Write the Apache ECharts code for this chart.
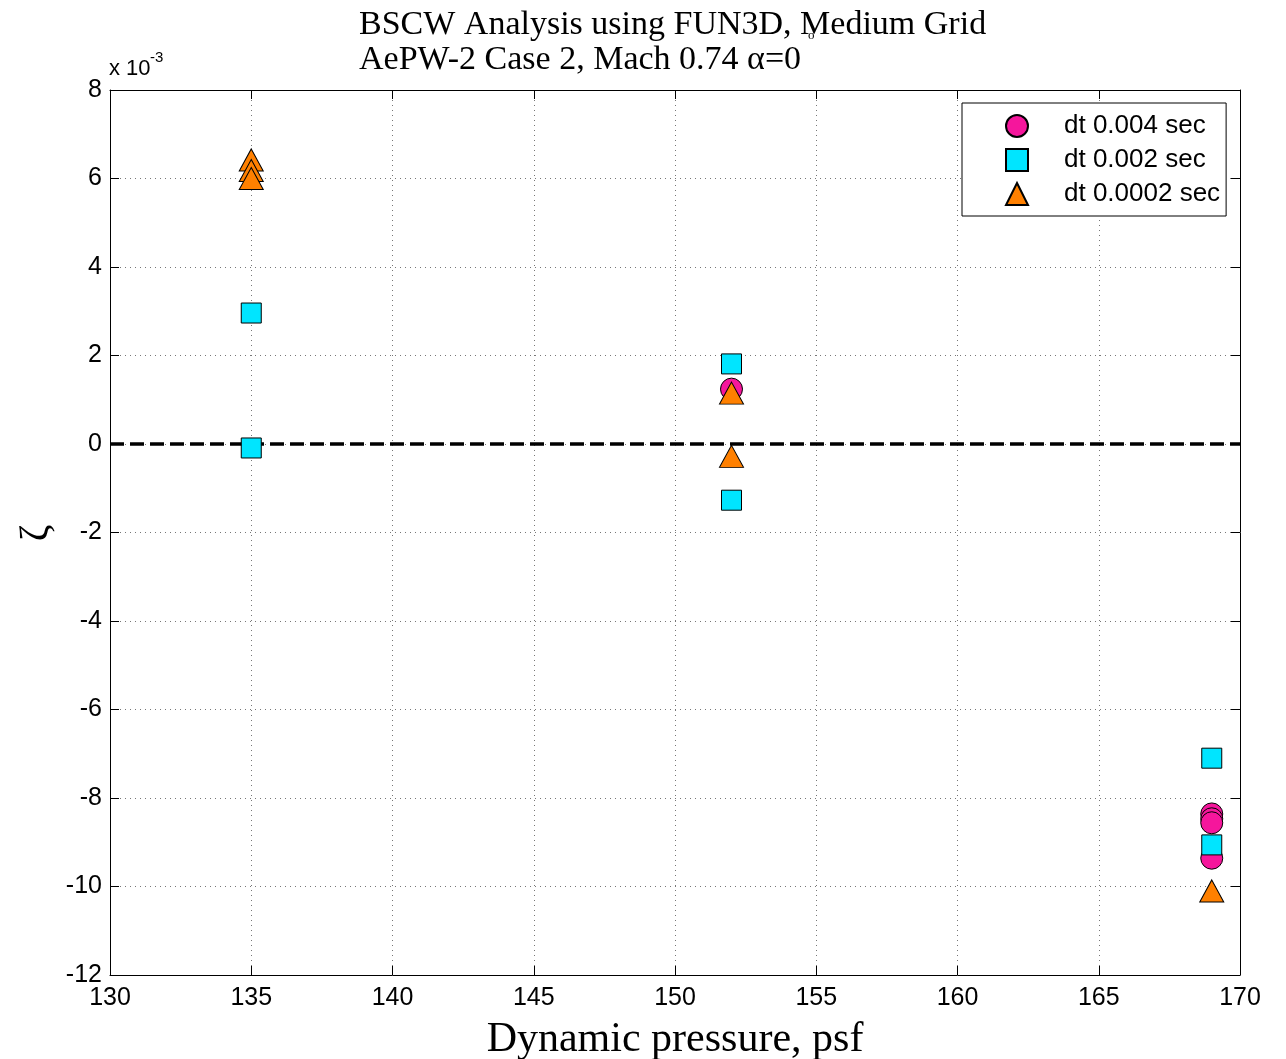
<!DOCTYPE html>
<html><head><meta charset="utf-8">
<script src="https://cdn.jsdelivr.net/npm/echarts@6/dist/echarts.min.js"></script>
<style>html,body{margin:0;padding:0;background:#fff}#c{width:1286px;height:1059px}</style>
</head><body><div id="c"></div>
<script>
// values of zeta in units of 1e-3
const circles = [[152, 1.24], [169, -8.36], [169, -8.47], [169, -8.56], [169, -9.36]];
const squares = [[135, 2.96], [135, -0.09], [152, 1.81], [152, -1.27], [169, -7.1], [169, -9.06]];
const triangles = [[135, 6.42], [135, 6.18], [135, 6.0], [152, 1.15], [152, -0.28], [169, -10.1]];
const zeroLine = [[130, 0], [170, 0]];
const seriesNames = ['dt 0.004 sec', 'dt 0.002 sec', 'dt 0.0002 sec'];

const chart = echarts.init(document.getElementById('c'));
const tickFont = {fontFamily: 'Liberation Sans', fontSize: 25, color: '#000'};
const grid = {left: 110, right: 46, top: 90, bottom: 84, containLabel: false, outerBoundsMode: 'none'};
chart.setOption({
  animation: false,
  backgroundColor: '#fff',
  title: {
    text: 'BSCW Analysis using FUN3D, Medium Grid\nAePW-2 Case 2, Mach 0.74 α=0',
    left: 354, top: 3,
    textStyle: {fontFamily: 'Liberation Serif', fontSize: 34, fontWeight: 'normal', color: '#000', lineHeight: 35}
  },
  graphic: [
    {type: 'text', left: 808, top: 29, style: {text: 'o', font: '13px Liberation Serif', fill: '#000'}},
    {type: 'text', left: 109, top: 58, style: {text: 'x 10', font: '22px Liberation Sans', fill: '#000'}},
    {type: 'text', left: 150, top: 50, style: {text: '-3', font: '15px Liberation Sans', fill: '#000'}},
    {type: 'text', x: 36, y: 533, rotation: Math.PI / 2,
     style: {text: 'ζ', font: '40px Liberation Serif', fill: '#000', align: 'center', verticalAlign: 'middle'}}
  ],
  legend: {
    orient: 'vertical', left: 962, top: 103,
    data: seriesNames,
    itemWidth: 22, itemHeight: 22, itemGap: 8,
    padding: [10, 6, 9, 43],
    borderColor: '#000', borderWidth: 1, backgroundColor: '#fff',
    textStyle: {fontFamily: 'Liberation Sans', fontSize: 26, color: '#000', padding: [0, 0, 0, 31]}
  },
  grid: grid,
  xAxis: [{
    type: 'value', min: 130, max: 170, interval: 5,
    name: 'Dynamic pressure, psf', nameLocation: 'middle', nameGap: 44,
    nameTextStyle: {fontFamily: 'Liberation Serif', fontSize: 42, color: '#000'},
    axisLine: {show: true, onZero: false, lineStyle: {color: '#000', width: 1}},
    axisTick: {show: true, inside: true, length: 9, lineStyle: {color: '#000'}},
    axisLabel: Object.assign({margin: 11}, tickFont),
    splitLine: {show: true, lineStyle: {type: [1, 4], color: '#777', width: 1}}
  }, {
    type: 'value', min: 130, max: 170, interval: 5, position: 'top',
    axisLine: {show: true, onZero: false, lineStyle: {color: '#000'}},
    axisTick: {show: true, inside: true, length: 9, lineStyle: {color: '#000'}},
    axisLabel: {show: false}, splitLine: {show: false}
  }],
  yAxis: [{
    type: 'value', min: -12, max: 8, interval: 2,
    axisLine: {show: true, onZero: false, lineStyle: {color: '#000', width: 1}},
    axisTick: {show: true, inside: true, length: 9, lineStyle: {color: '#000'}},
    axisLabel: Object.assign({margin: 8}, tickFont),
    splitLine: {show: true, lineStyle: {type: [1, 4], color: '#777', width: 1}}
  }, {
    type: 'value', min: -12, max: 8, interval: 2, position: 'right',
    axisLine: {show: true, onZero: false, lineStyle: {color: '#000'}},
    axisTick: {show: true, inside: true, length: 9, lineStyle: {color: '#000'}},
    axisLabel: {show: false}, splitLine: {show: false}
  }],
  series: [
    {type: 'line', data: zeroLine, symbol: 'none', silent: true,
     lineStyle: {color: '#000', width: 3.5, type: [14, 6]}, z: 1},
    {name: seriesNames[0], type: 'scatter', data: circles, symbol: 'circle', symbolSize: 22,
     itemStyle: {color: '#f5169c', borderColor: '#000', borderWidth: 1, opacity: 1}, z: 3},
    {name: seriesNames[1], type: 'scatter', data: squares, symbol: 'rect', symbolSize: 20,
     itemStyle: {color: '#00e5ff', borderColor: '#000', borderWidth: 1, opacity: 1}, z: 4},
    {name: seriesNames[2], type: 'scatter', data: triangles, symbol: 'triangle', symbolSize: [24, 22],
     itemStyle: {color: '#ff8000', borderColor: '#000', borderWidth: 1, opacity: 1}, z: 5}
  ]
});
</script></body></html>
